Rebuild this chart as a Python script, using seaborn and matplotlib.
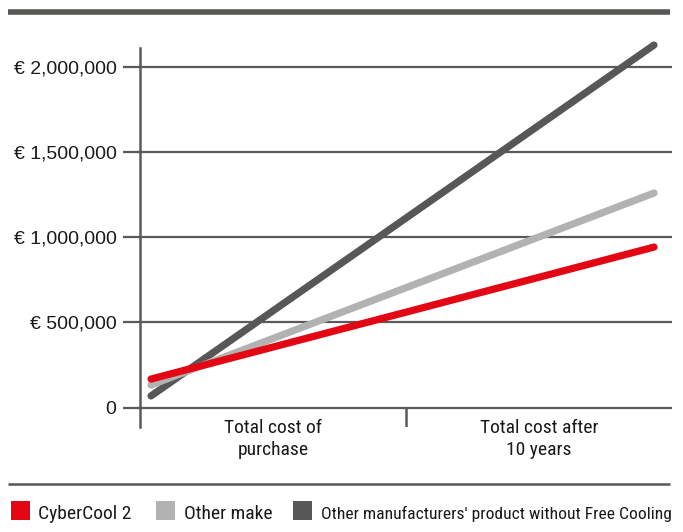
import matplotlib
matplotlib.use("Agg")
import matplotlib.pyplot as plt
import matplotlib.font_manager as fm
from matplotlib.patches import Rectangle
from matplotlib.lines import Line2D
import seaborn as sns
import pandas as pd

# ---- data ----
series = ["Other manufacturers' product without Free Cooling", "Other make", "CyberCool 2"]
years = [0, 10]
cost_dark = [69000, 2127000]
cost_gray = [133000, 1259000]
cost_red = [168000, 942000]
categories = ["Total cost of\npurchase", "Total cost after\n10 years"]
category_pos = [2.43, 7.71]
yticks = [0, 500000, 1000000, 1500000, 2000000]
ytick_labels = ["0", "€ 500,000", "€ 1,000,000", "€ 1,500,000", "€ 2,000,000"]
legend_order = ["CyberCool 2", "Other make", "Other manufacturers' product without Free Cooling"]

colors = {"CyberCool 2": "#E30613", "Other make": "#B2B2B2",
          "Other manufacturers' product without Free Cooling": "#575756"}
axis_col = "#5a5a5a"
text_col = "#1a1a1a"

df = pd.DataFrame({
    "series": [series[0]] * 2 + [series[1]] * 2 + [series[2]] * 2,
    "year": years * 3,
    "cost": cost_dark + cost_gray + cost_red,
})

sns.set_theme(style="white")
avail = {f.name for f in fm.fontManager.ttflist}
narrow = next((f for f in ["Liberation Sans Narrow", "DejaVu Sans Condensed", "Roboto Condensed", "Liberation Sans"] if f in avail), "DejaVu Sans")
plt.rcParams["font.family"] = ["Liberation Sans", "DejaVu Sans"]

W, H = 683, 532
fig = plt.figure(figsize=(W / 100, H / 100), dpi=100)
ax = fig.add_axes([140 / W, 1 - 427 / H, 532 / W, 379 / H])

sns.lineplot(data=df, x="year", y="cost", hue="series", hue_order=series,
             palette=colors, linewidth=5.2, legend=False, ax=ax)
for ln in ax.get_lines():
    ln.set_solid_capstyle("round")
    ln.set_clip_on(False)
    ln.set_zorder(5)

px_per_m = 170.5
ax.set_ylim(-(427 - 407.7) / px_per_m * 1e6, (407.7 - 48) / px_per_m * 1e6)
ax.set_xlim(-0.219, 10.358)

ax.set_yticks(yticks)
ax.set_yticklabels(ytick_labels, fontsize=14, color=text_col)
ax.tick_params(axis="y", length=12, width=1.6, color=axis_col, pad=5, left=True)
ax.set_xticks([])
ax.set_xlabel("")
ax.set_ylabel("")
ax.grid(axis="y", color=axis_col, linewidth=1.6)
ax.grid(axis="x", visible=False)
for s in ["top", "right", "bottom"]:
    ax.spines[s].set_visible(False)
ax.spines["left"].set_color(axis_col)
ax.spines["left"].set_linewidth(1.8)

# middle divider tick
ax.axvline(5.07, ymin=0, ymax=(427 - 407.7) / 379, color=axis_col, linewidth=1.8)

for xp, lab in zip(category_pos, categories):
    ax.text(xp, 0.022, lab, transform=ax.get_xaxis_transform(), ha="center", va="top",
            fontsize=14, family=narrow, color=text_col, linespacing=1.3)

# top bar and bottom rule
fig.add_artist(Line2D([8 / W, 670 / W], [1 - 12 / H] * 2, color="#575756", linewidth=4, solid_capstyle="butt"))
fig.add_artist(Line2D([8 / W, 670 / W], [1 - 484 / H] * 2, color="#575756", linewidth=1.8, solid_capstyle="butt"))

# legend (manual)
sq_x = [11, 156, 293]
txt_x = [38, 184, 321]
sizes = [14, 14, 12.6]
for sx, tx, fs, name in zip(sq_x, txt_x, sizes, legend_order):
    fig.add_artist(Rectangle((sx / W, 1 - 520 / H), 19 / W, 19 / H, transform=fig.transFigure,
                             facecolor=colors[name], edgecolor="none"))
    fig.text(tx / W, 1 - 519 / H, name, ha="left", va="baseline", fontsize=fs,
             family=narrow, color=text_col)

fig.savefig("out.png", dpi=100)
